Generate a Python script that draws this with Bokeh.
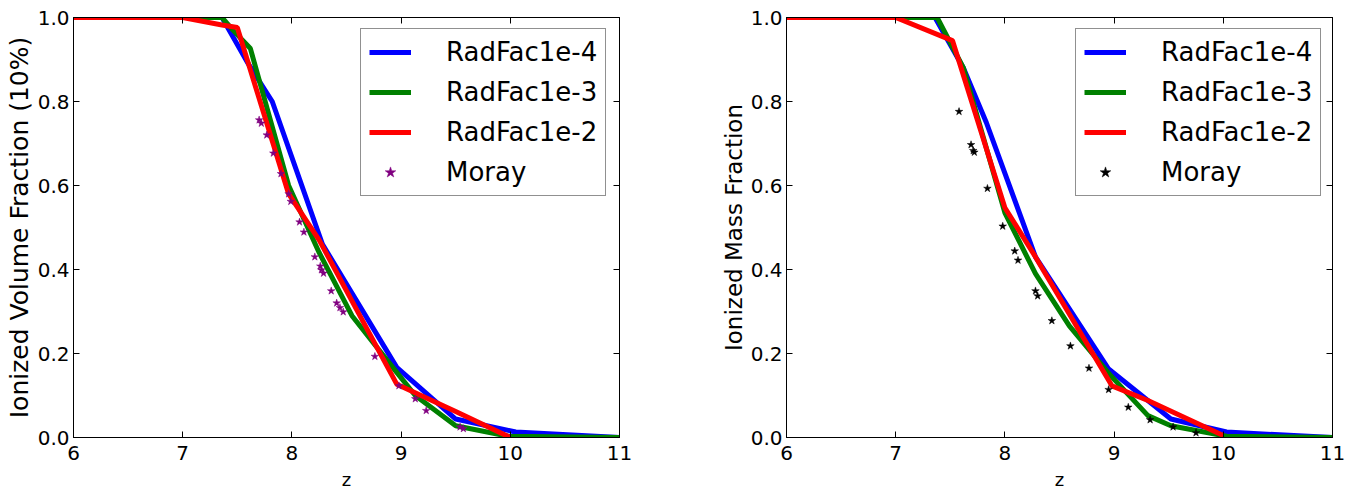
from bokeh.plotting import figure
from bokeh.models import (LinearAxis, Legend, LegendItem, Range1d, FixedTicker,
                          PrintfTickFormatter, CustomJSTickFormatter)
from bokeh.layouts import row
from bokeh.embed import file_html
from bokeh.resources import INLINE

# ---------------- data ----------------
series_names = ["RadFac1e-4", "RadFac1e-3", "RadFac1e-2", "Moray"]
x_ticks = [6, 7, 8, 9, 10, 11]
y_ticks = [0.0, 0.2, 0.4, 0.6, 0.8, 1.0]

# Left panel: ionized volume fraction
vol_z_1e4 = [6.0, 7.0, 7.36, 7.6, 7.82, 8.28, 8.96, 9.5, 10.05, 11.0]
vol_f_1e4 = [1.0, 1.0, 1.0, 0.89, 0.80, 0.46, 0.167, 0.044, 0.013, 0.0]
vol_z_1e3 = [6.0, 7.0, 7.36, 7.46, 7.62, 7.97, 8.25, 8.55, 8.96, 9.13, 9.5, 9.98, 11.0]
vol_f_1e3 = [1.0, 1.0, 1.0, 0.97, 0.926, 0.60, 0.44, 0.29, 0.155, 0.10, 0.028, 0.003, 0.0]
vol_z_1e2 = [6.0, 7.0, 7.36, 7.5, 7.97, 8.25, 8.96, 9.5, 10.0]
vol_f_1e2 = [1.0, 1.0, 0.982, 0.976, 0.58, 0.47, 0.127, 0.062, 0.0]
vol_z_moray = [7.70, 7.72, 7.77, 7.83, 7.90, 7.97, 7.99, 8.07, 8.11, 8.21, 8.26, 8.27,
               8.29, 8.36, 8.41, 8.44, 8.47, 8.76, 8.98, 9.13, 9.23, 9.54, 9.57]
vol_f_moray = [0.756, 0.748, 0.720, 0.677, 0.628, 0.580, 0.562, 0.513, 0.489, 0.430, 0.408,
               0.399, 0.391, 0.349, 0.320, 0.309, 0.299, 0.193, 0.123, 0.092, 0.064, 0.025, 0.021]

# Right panel: ionized mass fraction
mass_z_1e4 = [6.0, 7.0, 7.36, 7.62, 7.83, 8.28, 8.95, 9.52, 10.03, 11.0]
mass_f_1e4 = [1.0, 1.0, 1.0, 0.88, 0.75, 0.43, 0.163, 0.044, 0.013, 0.0]
mass_z_1e3 = [6.0, 7.0, 7.38, 7.62, 8.0, 8.28, 8.59, 8.97, 9.31, 9.52, 10.03, 11.0]
mass_f_1e3 = [1.0, 1.0, 1.0, 0.88, 0.535, 0.39, 0.266, 0.147, 0.052, 0.028, 0.003, 0.0]
mass_z_1e2 = [6.0, 7.0, 7.52, 8.0, 8.28, 8.98, 9.31, 10.0]
mass_f_1e2 = [1.0, 1.0, 0.945, 0.547, 0.43, 0.123, 0.088, 0.005]
mass_z_moray = [7.58, 7.69, 7.71, 7.72, 7.84, 7.98, 8.09, 8.12, 8.28, 8.30, 8.43, 8.60,
                8.77, 8.95, 9.13, 9.33, 9.54, 9.75]
mass_f_moray = [0.776, 0.697, 0.683, 0.679, 0.593, 0.503, 0.444, 0.422, 0.349, 0.337, 0.278,
                0.218, 0.165, 0.114, 0.072, 0.042, 0.025, 0.011]

FONT = "DejaVu Sans"
LINE_COLORS = ["#0000ff", "#008000", "#ff0000"]


def style_axis(ax, ticks, fmt, labels=True):
    ax.ticker = FixedTicker(ticks=ticks)
    ax.major_tick_in = 6
    ax.major_tick_out = 0
    ax.minor_tick_line_color = None
    ax.axis_line_color = "black"
    ax.major_tick_line_color = "black"
    ax.major_label_text_font = FONT
    ax.major_label_text_color = "black"
    if labels:
        ax.formatter = PrintfTickFormatter(format=fmt)
        ax.major_label_text_font_size = "20px"
    else:
        ax.formatter = CustomJSTickFormatter(code="return '';")
        ax.major_label_standoff = 0


def make_panel(ylabel, ylabel_size, curves, moray_z, moray_f, star_color, width,
               border_left, border_right, legend_x):
    p = figure(width=width, height=492, x_range=Range1d(6, 11), y_range=Range1d(0, 1),
               output_backend="svg", toolbar_location=None,
               min_border_left=border_left, min_border_right=border_right,
               min_border_top=17, min_border_bottom=53)
    p.background_fill_color = "white"
    p.border_fill_color = "white"
    p.outline_line_color = "black"
    p.grid.visible = False

    style_axis(p.xaxis[0], x_ticks, "%d")
    p.xaxis[0].major_label_standoff = 8
    p.xaxis[0].axis_label = "z"
    p.xaxis[0].axis_label_text_font = FONT
    p.xaxis[0].axis_label_text_font_size = "18px"
    p.xaxis[0].axis_label_text_font_style = "normal"
    p.xaxis[0].axis_label_text_color = "black"
    p.xaxis[0].axis_label_standoff = 6

    style_axis(p.yaxis[0], y_ticks, "%.1f")
    p.yaxis[0].major_label_standoff = 4
    p.yaxis[0].axis_label = ylabel
    p.yaxis[0].axis_label_text_font = FONT
    p.yaxis[0].axis_label_text_font_size = ylabel_size
    p.yaxis[0].axis_label_text_font_style = "normal"
    p.yaxis[0].axis_label_text_color = "black"
    p.yaxis[0].axis_label_standoff = 1

    top_ax = LinearAxis()
    style_axis(top_ax, x_ticks, "%d", labels=False)
    p.add_layout(top_ax, "above")
    right_ax = LinearAxis()
    style_axis(right_ax, y_ticks, "%.1f", labels=False)
    p.add_layout(right_ax, "right")

    items = []
    for (zs, fs), color, name in zip(curves, LINE_COLORS, series_names[:3]):
        r = p.line(zs, fs, line_color=color, line_width=5)
        items.append(LegendItem(label=name, renderers=[r]))
    rs = p.scatter(moray_z, moray_f, marker="star", size=8, fill_color=star_color,
                   line_color=star_color, line_width=0.5)
    items.append(LegendItem(label=series_names[3], renderers=[rs]))

    legend = Legend(items=items, location=(legend_x, 241))
    legend.label_text_font = FONT
    legend.label_text_font_size = "26px"
    legend.label_text_color = "black"
    legend.label_height = 28
    legend.glyph_height = 28
    legend.glyph_width = 42
    legend.label_standoff = 35
    legend.spacing = 10
    legend.padding = 8
    legend.margin = 0
    legend.border_line_color = "#222222"
    legend.border_line_width = 1
    legend.background_fill_color = "white"
    legend.background_fill_alpha = 1.0
    p.add_layout(legend, "center")
    return p


left = make_panel("Ionized Volume Fraction (10%)", "25px",
                  [(vol_z_1e4, vol_f_1e4), (vol_z_1e3, vol_f_1e3), (vol_z_1e2, vol_f_1e2)],
                  vol_z_moray, vol_f_moray, "#800080",
                  width=698, border_left=73, border_right=79, legend_x=287)
right = make_panel("Ionized Mass Fraction", "23px",
                   [(mass_z_1e4, mass_f_1e4), (mass_z_1e3, mass_f_1e3), (mass_z_1e2, mass_f_1e2)],
                   mass_z_moray, mass_f_moray, "#000000",
                   width=662, border_left=88, border_right=28, legend_x=289)

layout = row(left, right)
open("out.html", "w").write(file_html(layout, INLINE))
